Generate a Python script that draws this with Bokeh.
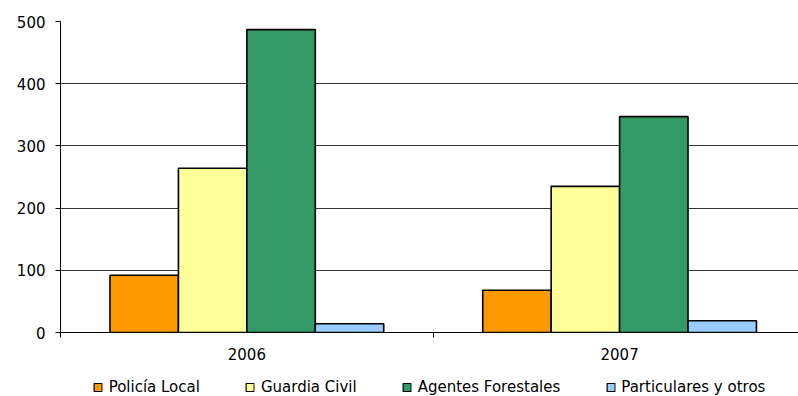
from bokeh.plotting import figure
from bokeh.layouts import column
from bokeh.models import Range1d, FixedTicker, Legend, LegendItem
from bokeh.embed import file_html
from bokeh.resources import INLINE

years = ["2006", "2007"]
series = ["Policía Local", "Guardia Civil", "Agentes Forestales", "Particulares y otros"]
policia_local = [92, 68]
guardia_civil = [264, 235]
agentes_forestales = [487, 347]
particulares = [14, 19]
values = [policia_local, guardia_civil, agentes_forestales, particulares]
colors = ["#FF9900", "#FFFF99", "#339966", "#99CCFF"]
y_ticks = [0, 100, 200, 300, 400, 500]

FONT = "DejaVu Sans"

p = figure(frame_width=738, frame_height=311, output_backend="svg", toolbar_location=None,
           x_range=Range1d(0, 1.98), y_range=Range1d(0, 500),
           min_border_left=60, min_border_right=0, min_border_top=21, min_border_bottom=46)
p.outline_line_color = None
p.background_fill_color = "white"

bar_w = 0.1836
centers = [i + 0.5 for i in range(len(years))]
for j, (vals, col) in enumerate(zip(values, colors)):
    xs = [c + (j - 1.5) * bar_w for c in centers]
    p.vbar(x=xs, top=vals, width=bar_w, bottom=0, fill_color=col,
           line_color="black", line_width=1.6)

# x axis
p.xaxis.ticker = FixedTicker(ticks=centers, minor_ticks=[0, 1, 2])
p.xaxis.major_label_overrides = {c: y for c, y in zip(centers, years)}
p.xaxis.major_tick_line_color = None
p.xaxis.minor_tick_line_color = "black"
p.xaxis.minor_tick_out = 5
p.xaxis.minor_tick_in = 0
p.xaxis.axis_line_color = "black"
p.xaxis.major_label_text_font = FONT
p.xaxis.major_label_text_font_size = "15px"
p.xaxis.major_label_text_color = "black"
p.xaxis.major_label_standoff = 9

# y axis
p.yaxis.ticker = FixedTicker(ticks=y_ticks)
p.yaxis.minor_tick_line_color = None
p.yaxis.major_tick_out = 5
p.yaxis.major_tick_in = 0
p.yaxis.major_tick_line_color = "black"
p.yaxis.axis_line_color = "black"
p.yaxis.major_label_text_font = FONT
p.yaxis.major_label_text_font_size = "15px"
p.yaxis.major_label_text_color = "black"
p.yaxis.major_label_standoff = 10

p.xgrid.grid_line_color = None
p.ygrid.grid_line_color = "#333333"
p.ygrid.grid_line_width = 1

# legend strip below the chart
lf = figure(width=798, height=18, output_backend="svg", toolbar_location=None,
            x_range=Range1d(0, 1), y_range=Range1d(0, 1),
            x_axis_location=None, y_axis_location=None,
            min_border_left=0, min_border_right=0, min_border_top=0, min_border_bottom=0)
lf.outline_line_color = None
lf.xgrid.grid_line_color = None
lf.ygrid.grid_line_color = None
items = []
for j, (name, vals, col) in enumerate(zip(series, values, colors)):
    xs = [c + (j - 1.5) * bar_w for c in centers]
    r = lf.vbar(x=xs, top=vals, width=bar_w, bottom=0, fill_color=col,
                line_color="black", line_width=1.2, visible=False)
    items.append(LegendItem(label=name, renderers=[r]))

legend = Legend(items=items, orientation="horizontal", location="center",
                label_text_font=FONT, label_text_font_size="15px",
                label_text_color="black",
                glyph_width=10, glyph_height=10, label_standoff=6, spacing=45,
                padding=0, margin=0, border_line_color=None,
                background_fill_alpha=0, label_height=16,
                inactive_fill_alpha=0)
lf.add_layout(legend, "center")

layout = column(p, lf, spacing=0)
open("out.html", "w").write(file_html(layout, INLINE))
